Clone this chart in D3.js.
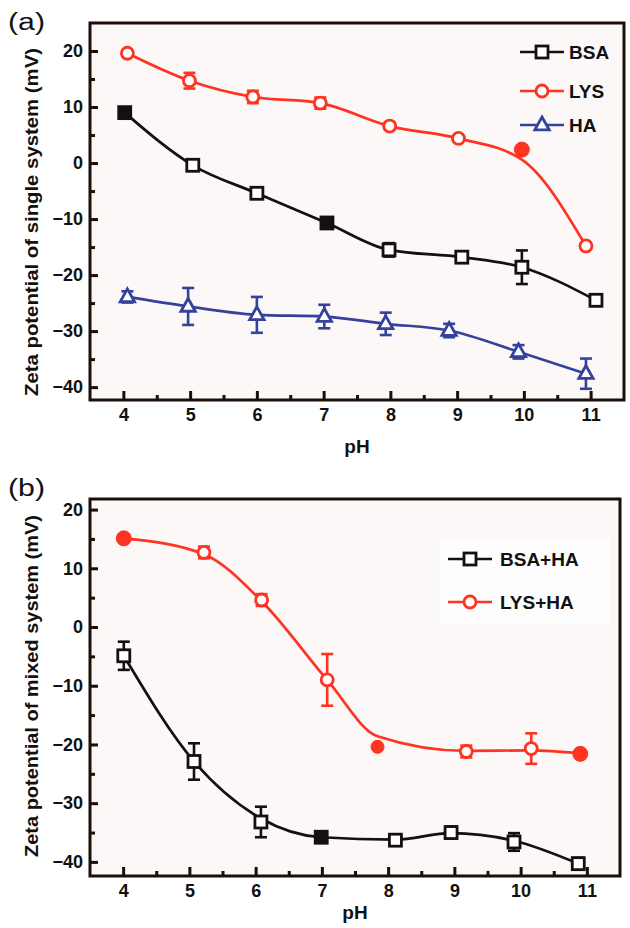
<!DOCTYPE html>
<html><head><meta charset="utf-8">
<script src="https://cdn.jsdelivr.net/npm/d3@7/dist/d3.min.js"></script>
<style>
body{margin:0;background:#fff}
svg{display:block}
text{font-family:"Liberation Sans",Arial,Helvetica,sans-serif}
</style>
</head><body>
<svg id="chart" width="630" height="928"></svg>
<script>
// ---------- shared axis data ----------
const phTicks = [4, 5, 6, 7, 8, 9, 10, 11];
const phMinor = [4.5, 5.5, 6.5, 7.5, 8.5, 9.5, 10.5];
const yMajor = [-40, -30, -20, -10, 0, 10, 20];
const yMinor = [-35, -25, -15, -5, 5, 15];

// ---------- panel (a): single systems ----------
const aBSA_pH   = [4.02, 5.04, 6.00, 7.05, 7.98, 9.07, 9.97, 11.08];
const aBSA      = [9.0, -0.4, -5.4, -10.7, -15.5, -16.8, -18.6, -24.5];
const aBSA_fit  = [9.0, -0.4, -5.4, -10.7, -15.5, -16.8, -18.6, -24.5];
const aBSA_err  = [0.6, 0.5, 0.6, 0.6, 1.2, 1.0, 3.0, 1.0];
const aBSA_fill = [1, 0, 0, 1, 0, 0, 0, 0];

const aLYS_pH   = [4.06, 4.99, 5.94, 6.95, 7.99, 9.02, 9.97, 10.93];
const aLYS      = [19.6, 14.7, 11.8, 10.7, 6.6, 4.4, 2.4, -14.8];
const aLYS_fit  = [19.6, 14.7, 11.8, 10.7, 6.6, 4.4, 0.6, -14.8];
const aLYS_err  = [0.5, 1.4, 1.1, 1.0, 0.6, 0.5, 0, 0.5];
const aLYS_fill = [0, 0, 0, 0, 0, 0, 1, 0];

const aHA_pH    = [4.06, 4.97, 6.00, 7.01, 7.93, 8.88, 9.92, 10.93];
const aHA       = [-23.9, -25.6, -27.1, -27.4, -28.7, -29.9, -33.7, -37.6];
const aHA_fit   = [-23.9, -25.6, -27.1, -27.4, -28.7, -29.9, -33.7, -37.6];
const aHA_err   = [1.0, 3.3, 3.2, 2.1, 2.0, 1.2, 1.2, 2.7];
const aHA_fill  = [0, 0, 0, 0, 0, 0, 0, 0];

// ---------- panel (b): mixed systems ----------
const bBSA_pH   = [4.01, 5.07, 6.08, 6.99, 8.11, 8.95, 9.90, 10.87];
const bBSA      = [-4.9, -22.9, -33.2, -35.8, -36.3, -35.0, -36.6, -40.3];
const bBSA_fit  = [-4.9, -22.9, -32.6, -35.8, -36.2, -35.1, -36.4, -40.3];
const bBSA_err  = [2.4, 3.1, 2.6, 0.5, 0.6, 1.0, 1.5, 1.0];
const bBSA_fill = [0, 0, 0, 1, 0, 0, 0, 0];

const bLYS_pH   = [4.01, 5.22, 6.09, 7.08, 7.84, 9.18, 10.16, 10.90];
const bLYS      = [15.1, 12.7, 4.6, -9.0, -20.4, -21.2, -20.7, -21.6];
const bLYS_fit  = [15.1, 12.4, 4.4, -9.0, -18.6, -21.1, -21.0, -21.5];
const bLYS_err  = [0, 1.0, 1.0, 4.4, 0, 1.0, 2.6, 0];
const bLYS_fill = [1, 0, 0, 0, 1, 0, 0, 1];
const bLYS_size = [7, 6, 6, 6, 6, 6, 6, 7];

const RED = "#ff3322", BLACK = "#141010", BLUE = "#34429c", FRAME = "#1c0f08";

function mk(xs, ys, fit, err, fill, size) {
  return xs.map((x, i) => ({x, y: ys[i], f: fit[i], e: err[i], filled: !!fill[i], r: size ? size[i] : null}));
}

const panels = [
  {
    label: "(a)", labelY: 30,
    frame: {l: 90, r: 624, t: 23, b: 400},
    yDomain: [-42.3, 25],
    ytitle: "Zeta potential of single system (mV)", ytitleY: 222, ytitleLen: 348,
    pHY: 453,
    legend: {x: 520, tx: 569, ys: [52, 91, 125], box: null},
    series: [
      {name: "BSA", color: BLACK, shape: "square", pts: mk(aBSA_pH, aBSA, aBSA_fit, aBSA_err, aBSA_fill)},
      {name: "LYS", color: RED, shape: "circle", pts: mk(aLYS_pH, aLYS, aLYS_fit, aLYS_err, aLYS_fill)},
      {name: "HA", color: BLUE, shape: "triangle", pts: mk(aHA_pH, aHA, aHA_fit, aHA_err, aHA_fill)}
    ]
  },
  {
    label: "(b)", labelY: 496,
    frame: {l: 90, r: 620, t: 499, b: 876},
    yDomain: [-42.4, 21.8],
    ytitle: "Zeta potential of mixed system (mV)", ytitleY: 686, ytitleLen: 342,
    pHY: 919,
    legend: {x: 448, tx: 500, ys: [559, 602], box: {x: 440, y: 538, w: 170, h: 86}},
    series: [
      {name: "BSA+HA", color: BLACK, shape: "square", pts: mk(bBSA_pH, bBSA, bBSA_fit, bBSA_err, bBSA_fill)},
      {name: "LYS+HA", color: RED, shape: "circle", pts: mk(bLYS_pH, bLYS, bLYS_fit, bLYS_err, bLYS_fill, bLYS_size)}
    ]
  }
];

const svg = d3.select("#chart");

function marker(g, shape, color, filled, cx, cy, r) {
  const sw = 2.8;
  if (shape === "square") {
    g.append("rect").attr("x", cx - 6).attr("y", cy - 6).attr("width", 12).attr("height", 12)
      .attr("fill", filled ? color : "#fff").attr("stroke", color).attr("stroke-width", sw);
  } else if (shape === "circle") {
    const rr = r || (filled ? 7 : 6);
    g.append("circle").attr("cx", cx).attr("cy", cy).attr("r", filled ? rr + 0.5 : rr)
      .attr("fill", filled ? color : "#fff").attr("stroke", color).attr("stroke-width", filled ? 1 : sw);
  } else {
    const p = d3.path();
    p.moveTo(cx, cy - 8); p.lineTo(cx + 7.2, cy + 4.8); p.lineTo(cx - 7.2, cy + 4.8); p.closePath();
    g.append("path").attr("d", p.toString())
      .attr("fill", filled ? color : "#fff").attr("stroke", color).attr("stroke-width", sw)
      .attr("stroke-linejoin", "miter");
  }
}

panels.forEach(P => {
  const F = P.frame;
  const x = d3.scaleLinear().domain([3.5, 11.5]).range([F.l, F.r]);
  const y = d3.scaleLinear().domain(P.yDomain).range([F.b, F.t]);
  const g = svg.append("g");

  // plot background
  g.append("rect").attr("x", F.l).attr("y", F.t).attr("width", F.r - F.l).attr("height", F.b - F.t)
    .attr("fill", "#fcf8f7");
  if (P.legend.box) {
    const B = P.legend.box;
    g.append("rect").attr("x", B.x).attr("y", B.y).attr("width", B.w).attr("height", B.h).attr("fill", "#fefdfd");
  }

  // axes (inward ticks)
  const xAxis = d3.axisBottom(x).tickValues(phTicks).tickSize(-9).tickPadding(8).tickFormat(d3.format("d"));
  const xMin = d3.axisBottom(x).tickValues(phMinor).tickSize(-5).tickFormat("");
  const yAxis = d3.axisLeft(y).tickValues(yMajor).tickSize(-8).tickPadding(7).tickFormat(d3.format("d"));
  const yMin = d3.axisLeft(y).tickValues(yMinor).tickSize(-5).tickFormat("");

  [[xAxis, "x"], [xMin, "x"], [yAxis, "y"], [yMin, "y"]].forEach(([ax, k]) => {
    const ag = g.append("g").attr("transform", k === "x" ? `translate(0,${F.b})` : `translate(${F.l},0)`).call(ax);
    ag.select(".domain").remove();
    ag.selectAll("line").attr("stroke", FRAME).attr("stroke-width", 3);
    ag.selectAll("text").attr("font-size", 18).attr("font-weight", "bold").attr("fill", "#111");
  });

  // frame
  g.append("rect").attr("x", F.l).attr("y", F.t).attr("width", F.r - F.l).attr("height", F.b - F.t)
    .attr("fill", "none").attr("stroke", FRAME).attr("stroke-width", 3);

  // curves
  const line = d3.line().x(d => x(d.x)).y(d => y(d.f)).curve(d3.curveMonotoneX);
  P.series.forEach(s => {
    g.append("path").datum(s.pts).attr("d", line).attr("fill", "none")
      .attr("stroke", s.color).attr("stroke-width", 2.7);
  });

  // error bars + markers
  P.series.forEach(s => {
    const sg = g.append("g");
    s.pts.forEach(d => {
      if (d.e > 0) {
        const cx = x(d.x), y1 = y(d.y + d.e), y2 = y(d.y - d.e);
        sg.append("line").attr("x1", cx).attr("x2", cx).attr("y1", y1).attr("y2", y2)
          .attr("stroke", s.color).attr("stroke-width", 2.6);
        [y1, y2].forEach(yy => sg.append("line").attr("x1", cx - 6).attr("x2", cx + 6)
          .attr("y1", yy).attr("y2", yy).attr("stroke", s.color).attr("stroke-width", 2.6));
      }
    });
    s.pts.forEach(d => marker(sg, s.shape, s.color, d.filled, x(d.x), y(d.y), d.r));
  });

  // legend
  P.series.forEach((s, i) => {
    const ly = P.legend.ys[i];
    g.append("line").attr("x1", P.legend.x).attr("x2", P.legend.x + 44).attr("y1", ly).attr("y2", ly)
      .attr("stroke", s.color).attr("stroke-width", 2.7);
    marker(g, s.shape, s.color, false, P.legend.x + 22, ly);
    g.append("text").attr("x", P.legend.tx).attr("y", ly).attr("dy", "0.36em")
      .attr("font-size", 19).attr("font-weight", "bold").attr("fill", "#111").text(s.name);
  });

  // axis titles
  g.append("text").attr("x", (F.l + F.r) / 2).attr("y", P.pHY).attr("text-anchor", "middle")
    .attr("font-size", 19).attr("font-weight", "bold").attr("fill", "#111").text("pH");
  g.append("text").attr("transform", `translate(38,${P.ytitleY}) rotate(-90)`)
    .attr("text-anchor", "middle").attr("font-size", 18).attr("font-weight", "bold").attr("fill", "#111")
    .attr("textLength", P.ytitleLen).attr("lengthAdjust", "spacingAndGlyphs").text(P.ytitle);

  // panel label
  svg.append("text").attr("x", 8).attr("y", P.labelY).attr("font-size", 23).attr("fill", "#111")
    .attr("textLength", 37).attr("lengthAdjust", "spacingAndGlyphs").text(P.label);
});
</script>
</body></html>
